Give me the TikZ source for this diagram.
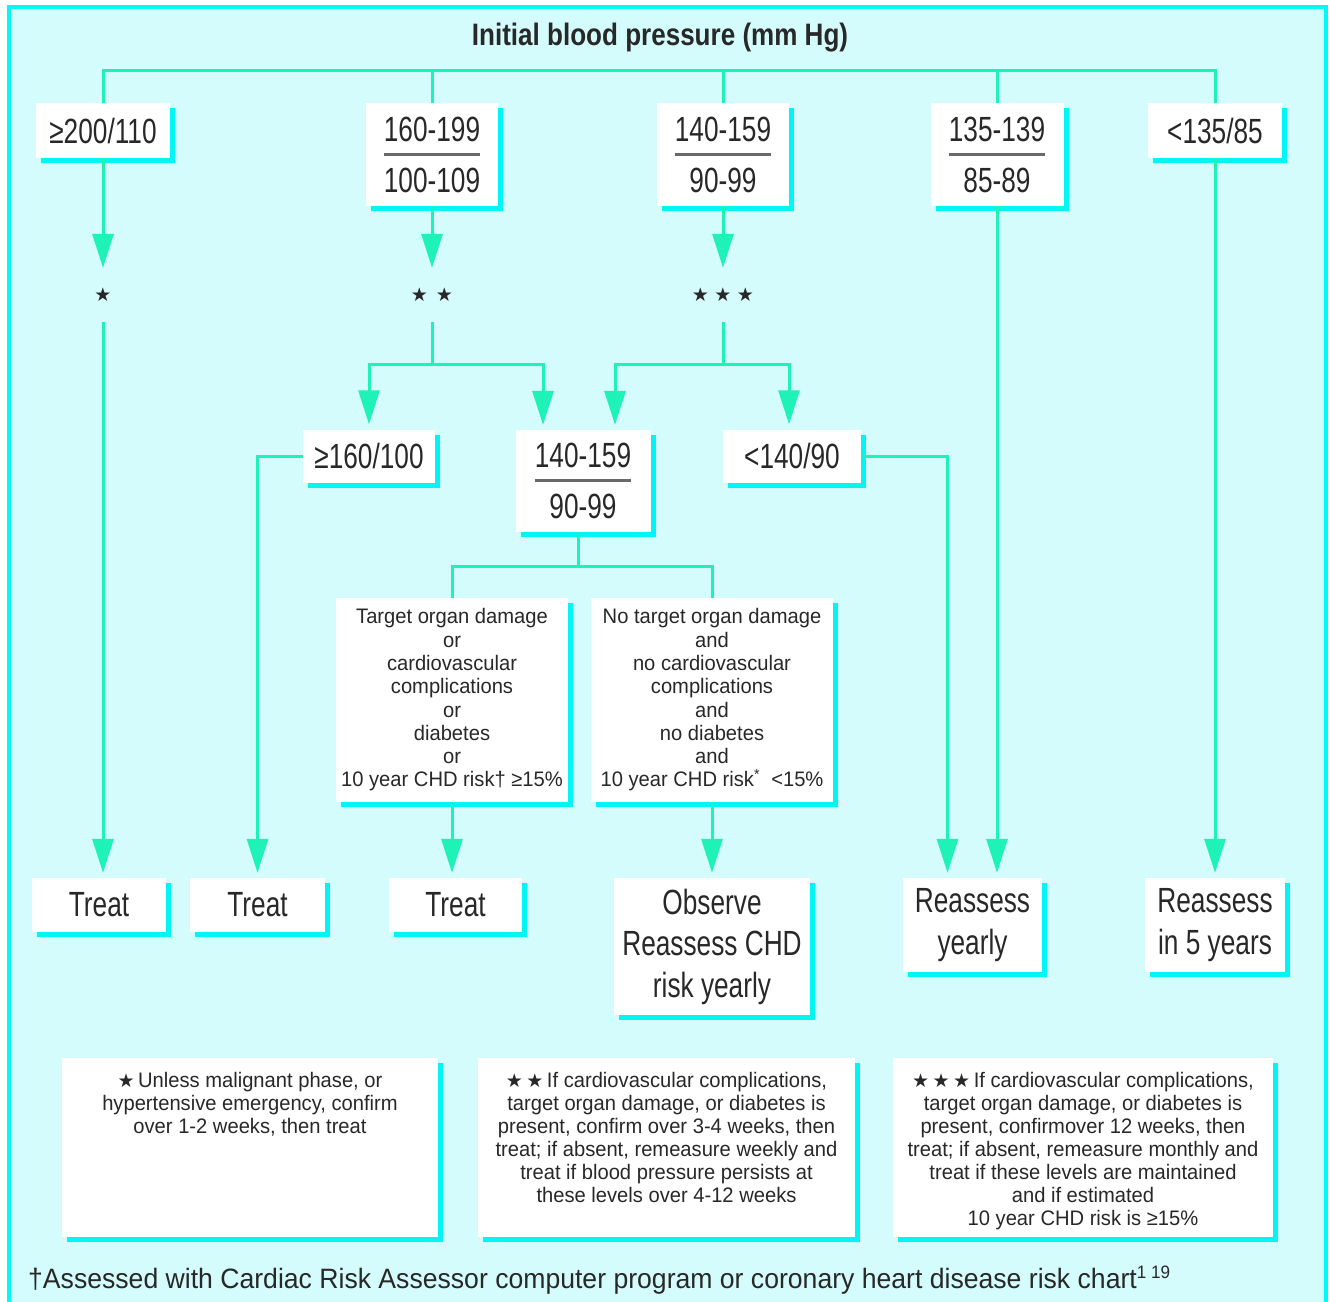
\documentclass[tikz,border=0pt]{standalone}
\usepackage{fontspec}
\setmainfont{Liberation Sans}
\newfontfamily\fLab{Liberation Sans}[FakeStretch=0.75]
\newfontfamily\fTtl{Liberation Sans}[FakeStretch=0.84]
\newfontfamily\fSm{Liberation Sans}[FakeStretch=0.96]
\newfontfamily\fFoot{Liberation Sans}[FakeStretch=0.95]
\newfontfamily\fSym{DejaVu Sans}
\usetikzlibrary{arrows.meta,shadows}
\definecolor{bgc}{RGB}{212,252,252}
\definecolor{framec}{RGB}{0,250,250}
\definecolor{shadc}{RGB}{0,245,245}
\definecolor{linec}{RGB}{30,242,182}
\definecolor{txtc}{RGB}{40,40,40}
\definecolor{rulec}{RGB}{105,105,105}
\newsavebox\bpbox
\newcommand\bpf[2]{\global\setbox\bpbox\hbox{#1}#1\\{\color{rulec}\rule[11pt]{\wd\bpbox}{3pt}}\\#2}
\newcommand\stt[1]{\makebox[#1]{\fSym\fontsize{19}{19}\selectfont ★}}
\newcommand\fst{{\fSym\fontsize{19}{19}\selectfont ★}}
\tikzset{
  conn/.style={draw=linec, line width=3pt},
  arr/.style={conn, -{Triangle[length=34pt,width=21pt]}, shorten >=5pt},
  arr0/.style={conn, -{Triangle[length=34pt,width=21pt]}},
  wbox/.style={fill=white, inner sep=0pt, text=txtc,
    drop shadow={shadow xshift=5pt, shadow yshift=-5pt, fill=shadc, opacity=1}},
  big/.style={wbox, font=\fLab\fontsize{35}{25.5}\selectfont, align=center},
  res/.style={wbox, font=\fLab\fontsize{35}{41.5}\selectfont, align=center},
  dec/.style={wbox, font=\fSm\fontsize{21}{23.3}\selectfont, align=center},
  fbox/.style={wbox, font=\fSm\fontsize{21}{23}\selectfont},
  starn/.style={inner sep=0pt, minimum height=54pt, text=txtc}
}
\begin{document}
\begin{tikzpicture}[x=1pt,y=-1pt]
\useasboundingbox (0,0) rectangle (1330,1301);
\fill[white] (0,0) rectangle (1330,1301);
\draw[framec, line width=4pt, fill=bgc] (9,7) rectangle (1326,1312);

\node[text=txtc, font=\fTtl\bfseries\fontsize{31}{31}\selectfont] (title) at (660,38) {Initial blood pressure (mm Hg)};

% top row
\node[big, minimum width=134pt, minimum height=55pt] (b1) at (103,130.5) {≥200/110};
\node[big, minimum width=132pt, minimum height=103pt] (b2) at (432,154.5) {\bpf{160-199}{100-109}};
\node[big, minimum width=132pt, minimum height=103pt] (b3) at (723,154.5) {\bpf{140-159}{90-99}};
\node[big, minimum width=133pt, minimum height=103pt] (b4) at (997,154.5) {\bpf{135-139}{85-89}};
\node[big, minimum width=134pt, minimum height=55pt] (b5) at (1215,130.5) {<135/85};

% stars
\node[starn] (s1) at (103,295) {\stt{20pt}};
\node[starn] (s2) at (432,295) {\stt{25pt}\stt{25pt}};
\node[starn] (s3) at (723,295) {\stt{22.5pt}\stt{22.5pt}\stt{22.5pt}};

% second row
\node[big, minimum width=132pt, minimum height=53pt] (g1) at (369,456) {≥160/100};
\node[big, minimum width=135pt, minimum height=102pt] (m1) at (583,481) {\bpf{140-159}{90-99}};
\node[big, minimum width=138pt, minimum height=53pt] (l1) at (792,456) {<140/90};

% decision boxes
\node[dec, minimum width=232pt, minimum height=204pt] (d1) at (452,700)
  {Target organ damage\\or\\cardiovascular\\complications\\or\\diabetes\\or\\10 year CHD risk† ≥15\%};
\node[dec, minimum width=242pt, minimum height=204pt] (d2) at (712,700)
  {No target organ damage\\and\\no cardiovascular\\complications\\and\\no diabetes\\and\\10 year CHD risk\textsuperscript{*}\ \ <15\%};

% results
\node[res, minimum width=134pt, minimum height=54pt] (t1) at (99,905) {Treat};
\node[res, minimum width=135pt, minimum height=54pt] (t2) at (257.5,905) {Treat};
\node[res, minimum width=133pt, minimum height=54pt] (t3) at (455.5,905) {Treat};
\node[res, minimum width=196pt, minimum height=137pt] (obs) at (712,946.5) {Observe\\Reassess CHD\\risk yearly};
\node[res, minimum width=139pt, minimum height=94pt] (ry) at (972.5,925) {Reassess\\yearly};
\node[res, minimum width=140pt, minimum height=94pt] (r5) at (1215,925) {Reassess\\in 5 years};

% footnote boxes
\node[fbox] (f1) at (250,1147.5) {\parbox[c][179pt][t]{376pt}{\centering\vspace*{14pt}%
  \fst\,Unless malignant phase, or\\hypertensive emergency, confirm\\over 1-2 weeks, then treat}};
\node[fbox] (f2) at (666.5,1147.5) {\parbox[c][179pt][t]{377pt}{\centering\vspace*{14pt}%
  \fst\,\fst\,If cardiovascular complications,\\target organ damage, or diabetes is\\present, confirm over 3-4 weeks, then\\treat; if absent, remeasure weekly and\\treat if blood pressure persists at\\these levels over 4-12 weeks}};
\node[fbox] (f3) at (1083,1147.5) {\parbox[c][179pt][t]{380pt}{\centering\vspace*{14pt}%
  \fst\,\fst\,\fst\,If cardiovascular complications,\\target organ damage, or diabetes is\\present, confirmover 12 weeks, then\\treat; if absent, remeasure monthly and\\treat if these levels are maintained\\and if estimated\\10 year CHD risk is ≥15\%}};

\node[anchor=base west, text=txtc, inner sep=0pt, font=\fFoot\fontsize{28}{28}\selectfont] (note) at (28,1288)
  {†Assessed with Cardiac Risk Assessor computer program or coronary heart disease risk chart\raisebox{10pt}{\fontsize{18}{18}\selectfont 1 19}};

% connectors
\coordinate (bus) at (660,70);
\draw[conn] (b1.north) -- (b1.north |- bus) -- (b5.north |- bus) -- (b5.north);
\draw[conn] (b2.north) -- (b2.north |- bus);
\draw[conn] (b3.north) -- (b3.north |- bus);
\draw[conn] (b4.north) -- (b4.north |- bus);

\draw[arr0] (b1.south) -- (s1.north);
\draw[arr0] (b2.south) -- (s2.north);
\draw[arr0] (b3.south) -- (s3.north);

\draw[arr] (s1.south) -- (s1.south |- t1.north);

\coordinate (j2) at (432,364);
\coordinate (j3) at (723,364);
\draw[conn] (s2.south) -- (j2);
\draw[conn] (s3.south) -- (j3);
\draw[arr] (j2) -| (g1.north);
\draw[arr] (j2) -| ([xshift=-40pt]m1.north);
\draw[arr] (j3) -| ([xshift=32pt]m1.north);
\draw[arr] (j3) -| ([xshift=-3pt]l1.north);

\draw[arr] (g1.west) -| (t2.north);
\draw[arr] (l1.east) -| ([xshift=-25pt]ry.north);
\draw[arr] (b4.south) -- (b4.south |- ry.north);
\draw[arr] (b5.south) -- (r5.north);

\coordinate (j4) at (578,566);
\draw[conn] (m1.south -| j4) -- (j4);
\draw[conn] (j4) -| (d1.north);
\draw[conn] (j4) -| (d2.north);

\draw[arr] (d1.south) -- (d1.south |- t3.north);
\draw[arr] (d2.south) -- (obs.north);
\end{tikzpicture}
\end{document}
